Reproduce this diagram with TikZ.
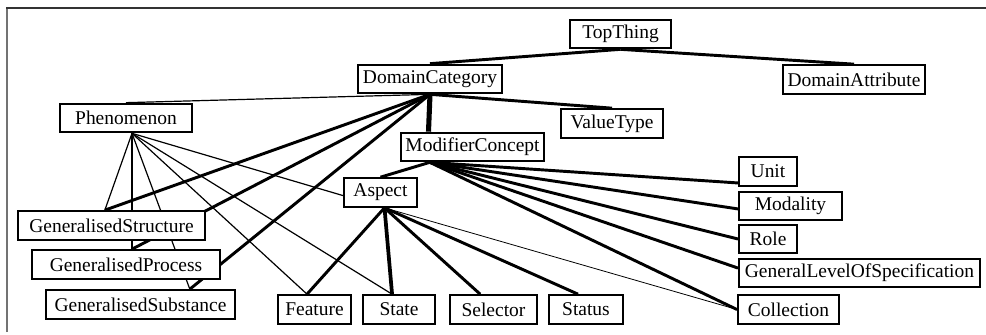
\documentclass[tikz,border=0pt]{standalone}
\usepackage{fontspec}
\setmainfont{Liberation Serif}
\usetikzlibrary{positioning,backgrounds}
\tikzstyle{block} = [rectangle, draw, fill=white, line width=1.5pt, inner sep=2pt,
    minimum height=21.5pt, font=\fontsize{14.6}{16}\selectfont]
\tikzstyle{line} = [draw, line width=2.2pt]
\tikzstyle{weakline} = [draw, line width=0.9pt]
\tikzstyle{mainline} = [draw, line width=3.8pt]

\begin{document}
\begin{tikzpicture}[x=0.75pt, y=-0.75pt]
  \useasboundingbox (0,0) rectangle (986,335);
  % Frame
  \draw [line width=1.5pt, black!55] (7,332) -- (7,8);
  \draw [line width=1.5pt, black!80] (6,8) -- (990,8);
  % Place nodes
  \node [block, minimum width=75.75pt] (top) at (620.5,34) {TopThing};
  \node [block, minimum width=108pt] (dcat) at (430,79) {DomainCategory};
  \node [block, minimum width=106.5pt] (dattr) at (854,79.5) {DomainAttribute};
  \node [block, minimum width=76.5pt] (vtype) at (612,123.5) {ValueType};
  \node [block, minimum width=99pt] (phen) at (126,118) {Phenomenon};
  \node [block, minimum width=107.25pt] (mcon) at (472.5,147) {ModifierConcept};
  \node [block, minimum width=54.75pt] (aspect) at (380.5,192.5) {Aspect};
  \node [block, minimum width=43.5pt] (unit) at (768,171.5) {Unit};
  \node [block, minimum width=77.25pt] (modal) at (790.5,206) {Modality};
  \node [block, minimum width=43.5pt] (role) at (768,239) {Role};
  \node [block, minimum width=180.75pt] (glos) at (859.5,273) {GeneralLevelOfSpecification};
  \node [block, minimum width=75.75pt] (coll) at (788.5,309.5) {Collection};
  \node [block, minimum width=140.25pt] (gstruct) at (111.5,225.5) {GeneralisedStructure};
  \node [block, minimum width=141pt] (gproc) at (126,264.5) {GeneralisedProcess};
  \node [block, minimum width=141.75pt] (gsubst) at (140.5,304.5) {GeneralisedSubstance};
  \node [block, minimum width=54.75pt] (feat) at (314.5,309.5) {Feature};
  \node [block, minimum width=54pt] (state) at (399,309.5) {State};
  \node [block, minimum width=65.25pt] (sel) at (493.5,309.5) {Selector};
  \node [block, minimum width=55.5pt] (status) at (586,309.5) {Status};
  % Draw edges
  \begin{pgfonlayer}{background}
    \path [line] (top.south) -- (dcat.north);
    \path [line] (top.south) -- (dattr.north);
    \path [weakline] (dcat.south) -- (phen.north);
    \path [line] (dcat.south) -- (vtype.north);
    \path [mainline] (dcat.south) -- ([xshift=-33pt]mcon.north);
    \path [line] (dcat.south) -- ([xshift=-5pt]gstruct.north);
    \path [line] (dcat.south) -- ([xshift=4.5pt]gproc.north);
    \path [line] (dcat.south) -- ([xshift=37pt]gsubst.north);
    % Phenomenon
    \path [weakline] ([xshift=4.5pt]phen.south) -- ([xshift=-5pt]gstruct.north);
    \path [weakline] ([xshift=4.5pt]phen.south) -- ([xshift=4.5pt]gproc.north);
    \path [weakline] ([xshift=4.5pt]phen.south) -- ([xshift=37pt]gsubst.north);
    \path [weakline] ([xshift=4.5pt]phen.south) -- ([xshift=-5.6pt]feat.north);
    \path [weakline] ([xshift=4.5pt]phen.south) -- ([xshift=-5.2pt]state.north);
    \path [weakline] ([xshift=4.5pt]phen.south) -- ([xshift=3pt]aspect.south);
    % ModifierConcept
    \path [line] ([xshift=-32pt]mcon.south) -- (aspect.north);
    \path [line] ([xshift=-32pt]mcon.south) -- ([yshift=-8.6pt]unit.west);
    \path [line] ([xshift=-32pt]mcon.south) -- ([yshift=-2.2pt]modal.west);
    \path [line] ([xshift=-32pt]mcon.south) -- (role.west);
    \path [line] ([xshift=-32pt]mcon.south) -- ([yshift=3.7pt]glos.west);
    \path [line] ([xshift=-32pt]mcon.south) -- (coll.west);
    % Aspect
    \path [line] ([xshift=3pt]aspect.south) -- ([xshift=-5.6pt]feat.north);
    \path [line, line width=2.8pt] ([xshift=3pt]aspect.south) -- ([xshift=-5.2pt]state.north);
    \path [line] ([xshift=3pt]aspect.south) -- ([xshift=-10pt]sel.north);
    \path [line] ([xshift=3pt]aspect.south) -- ([xshift=-6pt]status.north);
    \path [weakline, line width=0.6pt] ([xshift=3pt]aspect.south) -- (coll.west);
  \end{pgfonlayer}
\end{tikzpicture}
\end{document}
